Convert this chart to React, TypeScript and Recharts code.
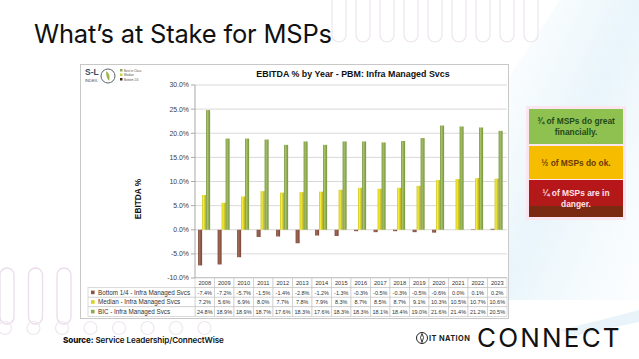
import React from 'react';
import { BarChart, Bar, XAxis, YAxis, CartesianGrid } from 'recharts';

const years = ['2008', '2009', '2010', '2011', '2012', '2013', '2014', '2015', '2016', '2017', '2018', '2019', '2020', '2021', '2022', '2023'];
const bottomQuartile = [-7.4, -7.2, -5.7, -1.5, -1.4, -2.8, -1.2, -1.3, -0.3, -0.5, -0.3, -0.5, -0.6, 0.0, 0.1, 0.2];
const medianValues = [7.2, 5.6, 6.9, 8.0, 7.7, 7.8, 7.9, 8.3, 8.7, 8.5, 8.7, 9.1, 10.3, 10.5, 10.7, 10.6];
const bicValues = [24.8, 18.9, 18.9, 18.7, 17.6, 18.3, 17.6, 18.3, 18.3, 18.1, 18.4, 19.0, 21.6, 21.4, 21.2, 20.5];
const yTicks = [-10, -5, 0, 5, 10, 15, 20, 25, 30];
const seriesNames = ['Bottom 1/4 - Infra Managed Svcs', 'Median - Infra Managed Svcs', 'BIC - Infra Managed Svcs'];
const seriesColors = ['#8B5444', '#D9D41A', '#8DAA4E'];

const data = years.map((y, i) => ({ year: y, bottom: bottomQuartile[i], median: medianValues[i], bic: bicValues[i] }));
const seriesArrays = [bottomQuartile, medianValues, bicValues];

const PLOT_W = 312;
const CELL_W = PLOT_W / years.length;
const ROW_H = 9.6;
const LABEL_W = 107;
const TABLE_FONT = "'Liberation Sans', Arial, sans-serif";

const fmt = (v: number) => v.toFixed(1) + '%';

const TableTick = (props: any) => {
  const { x, y, payload, index } = props;
  const left = x - CELL_W / 2;
  return (
    <g>
      <rect x={left} y={y} width={CELL_W} height={ROW_H} fill="#fff" stroke="#C4C4C4" strokeWidth={0.6} />
      <text x={x} y={y + 6.9} fontSize={5.7} textAnchor="middle" fill="#333" fontFamily={TABLE_FONT}>{payload.value}</text>
      {seriesArrays.map((arr, r) => (
        <g key={r}>
          <rect x={left} y={y + ROW_H * (r + 1)} width={CELL_W} height={ROW_H} fill="#fff" stroke="#C4C4C4" strokeWidth={0.6} />
          <text x={x} y={y + ROW_H * (r + 1) + 6.9} fontSize={5.5} textAnchor="middle" fill="#333" fontFamily={TABLE_FONT}>{fmt(arr[index])}</text>
        </g>
      ))}
      {index === 0 && seriesNames.map((name, r) => (
        <g key={'l' + r}>
          <rect x={left - LABEL_W} y={y + ROW_H * (r + 1)} width={LABEL_W} height={ROW_H} fill="#fff" stroke="#C4C4C4" strokeWidth={0.6} />
          <rect x={left - LABEL_W + 3} y={y + ROW_H * (r + 1) + 3} width={3.6} height={3.6} fill={seriesColors[r]} />
          <text x={left - LABEL_W + 10} y={y + ROW_H * (r + 1) + 6.9} fontSize={6.3} fill="#333" fontFamily={TABLE_FONT}>{name}</text>
        </g>
      ))}
    </g>
  );
};

const Decorations = () => (
  <svg width={639} height={359} style={{ position: 'absolute', left: 0, top: 0 }}>
    <defs>
      <linearGradient id="skyA" x1="0" y1="0" x2="1" y2="1">
        <stop offset="0" stopColor="#EEF8FC" stopOpacity="0" />
        <stop offset="0.5" stopColor="#E6F4FA" stopOpacity="0.9" />
        <stop offset="1" stopColor="#F4FAFD" stopOpacity="0.3" />
      </linearGradient>
    </defs>
    <polygon points="560,0 639,0 639,300 500,300 500,90" fill="url(#skyA)" />
    <path d="M560,330 Q610,318 639,310 L639,322 Q610,328 575,336 Z" fill="#E8F3FA" />
    {Array.from({ length: 9 }).map((_, i) => (
      <rect key={'t' + i} x={332 + i * 24} y={-12} width={14} height={54} rx={7} fill="none" stroke="#EDE4EE" strokeWidth={1.2} />
    ))}
    {Array.from({ length: 3 }).map((_, i) => (
      <rect key={'b' + i} x={0 + i * 28.5} y={268} width={14} height={56} rx={7} fill="none" stroke="#EADCEB" strokeWidth={1.3} />
    ))}
    {Array.from({ length: 8 }).map((_, i) => (
      <circle key={'c' + i} cx={5 + i * 28.5} cy={328} r={6.5} fill="none" stroke="#EEE6EF" strokeWidth={1.2} />
    ))}
  </svg>
);

const boxFont = "'Liberation Sans', Arial, sans-serif";

export default function App() {
  return (
    <div style={{ position: 'absolute', left: 0, top: 0, width: 639, height: 359, background: '#fff', overflow: 'hidden', fontFamily: 'Inter, Roboto, sans-serif' }}>
      <Decorations />
      <div style={{ position: 'absolute', left: 34, top: 18, fontSize: 25.5, color: '#111', fontFamily: 'Inter, sans-serif', letterSpacing: -0.2, whiteSpace: 'nowrap' }}>
        What’s at Stake for MSPs
      </div>

      {/* chart frame */}
      <div style={{ position: 'absolute', left: 80, top: 64, width: 427, height: 253, background: '#fff', border: '1px solid #C8C8C8' }} />

      {/* S-L index logo */}
      <svg width={80} height={24} style={{ position: 'absolute', left: 83, top: 66 }}>
        <text x={2} y={9} fontSize={8.5} fontWeight={700} fill="#3D4A5C" fontFamily="Arial, sans-serif">S-L</text>
        <text x={2} y={16} fontSize={4} fill="#3D4A5C" fontFamily="Arial, sans-serif">INDEX.</text>
        <circle cx={25} cy={10} r={7} fill="#fff" stroke="#5A6470" strokeWidth={1} />
        <path d="M23,5 Q28,8 26,15 Q23,12 23,5 Z" fill="#9CB84A" />
        <rect x={37} y={3} width={2.5} height={2.5} fill="#8DAA4E" />
        <rect x={37} y={7.5} width={2.5} height={2.5} fill="#C5D640" />
        <rect x={37} y={12} width={2.5} height={2.5} fill="#3A2A20" />
        <text x={41} y={5.5} fontSize={3} fill="#555" fontFamily="Arial">Best in Class</text>
        <text x={41} y={10} fontSize={3} fill="#555" fontFamily="Arial">Median</text>
        <text x={41} y={14.5} fontSize={3} fill="#555" fontFamily="Arial">Bottom 1/4</text>
      </svg>

      {/* chart title */}
      <div style={{ position: 'absolute', left: 197, width: 312, top: 69, textAlign: 'center', fontSize: 8.9, fontWeight: 700, color: '#111', fontFamily: "'Liberation Sans', Arial, sans-serif", whiteSpace: 'nowrap' }}>
        EBITDA % by Year - PBM: Infra Managed Svcs
      </div>

      {/* y axis title */}
      <div style={{ position: 'absolute', left: 138, top: 199, transform: 'translate(-50%, -50%) rotate(-90deg)', fontSize: 8.3, fontWeight: 700, color: '#111', fontFamily: "'Liberation Sans', Arial, sans-serif", whiteSpace: 'nowrap' }}>
        EBITDA %
      </div>

      <div style={{ position: 'absolute', left: 80, top: 64 }}>
        <BarChart width={428} height={254} data={data} margin={{ top: 21, right: 1, left: 0, bottom: 0 }} barCategoryGap="16%" barGap={0}>
          <defs>
            <linearGradient id="gBottom" x1="0" y1="0" x2="1" y2="0">
              <stop offset="0" stopColor="#6E3E30" />
              <stop offset="0.35" stopColor="#A06A58" />
              <stop offset="1" stopColor="#7A4536" />
            </linearGradient>
            <linearGradient id="gMedian" x1="0" y1="0" x2="1" y2="0">
              <stop offset="0" stopColor="#C9C210" />
              <stop offset="0.35" stopColor="#F2EE3A" />
              <stop offset="1" stopColor="#B8A820" />
            </linearGradient>
            <linearGradient id="gBic" x1="0" y1="0" x2="1" y2="0">
              <stop offset="0" stopColor="#6F8C38" />
              <stop offset="0.35" stopColor="#A5C264" />
              <stop offset="1" stopColor="#76933E" />
            </linearGradient>
          </defs>
          <CartesianGrid vertical={false} stroke="#CFCFCF" strokeWidth={0.8} />
          <XAxis dataKey="year" height={40} interval={0} tickLine={false} tickSize={0} tickMargin={0} axisLine={{ stroke: '#A8A8A8' }} tick={<TableTick />} />
          <YAxis width={115} domain={[-10, 30]} ticks={yTicks} allowDataOverflow tickFormatter={fmt} tickSize={4} tickMargin={2}
            tick={{ fontSize: 6.9, fill: '#404040', fontFamily: "'Liberation Sans', Arial, sans-serif" }}
            axisLine={{ stroke: '#A8A8A8' }} tickLine={{ stroke: '#A8A8A8' }} />
          <Bar dataKey="bottom" fill="url(#gBottom)" isAnimationActive={false} />
          <Bar dataKey="median" fill="url(#gMedian)" isAnimationActive={false} />
          <Bar dataKey="bic" fill="url(#gBic)" isAnimationActive={false} />
        </BarChart>
      </div>

      {/* right summary boxes */}
      <div style={{ position: 'absolute', left: 526, top: 106, width: 100, height: 114, background: '#FBE6F0' }} />
      <div style={{ position: 'absolute', left: 529, top: 109, width: 94, height: 35, background: '#8FC150', color: '#1F4A1A', fontSize: 8.4, fontWeight: 700, fontFamily: boxFont, display: 'flex', alignItems: 'center', justifyContent: 'center', textAlign: 'center', lineHeight: '11px' }}>
        ¾ of MSPs do great<br />financially.
      </div>
      <div style={{ position: 'absolute', left: 529, top: 146, width: 94, height: 33, background: '#F5BC00', color: '#6A3A06', fontSize: 8.4, fontWeight: 700, fontFamily: boxFont, display: 'flex', alignItems: 'center', justifyContent: 'center', textAlign: 'center' }}>
        ½ of MSPs do ok.
      </div>
      <div style={{ position: 'absolute', left: 529, top: 180, width: 94, height: 37, background: 'linear-gradient(#B8161A 0%, #B01A18 70%, #7A2A10 71%, #7A2A10 100%)', color: '#FFE2EA', fontSize: 8.4, fontWeight: 700, fontFamily: boxFont, display: 'flex', alignItems: 'center', justifyContent: 'center', textAlign: 'center', lineHeight: '11px' }}>
        ¼ of MSPs are in<br />danger.
      </div>

      {/* footer */}
      <div style={{ position: 'absolute', left: 63, top: 335, fontSize: 8.1, color: '#111', fontFamily: 'Inter, sans-serif', fontWeight: 600, whiteSpace: 'nowrap', letterSpacing: -0.1 }}>
        <span style={{ fontWeight: 800 }}>Source:</span> Service Leadership/ConnectWise
      </div>
      <svg width={14} height={14} style={{ position: 'absolute', left: 415, top: 331 }}>
        <circle cx={7} cy={7} r={5.5} fill="none" stroke="#222" strokeWidth={1} />
        <path d="M7,2.5 Q10,6 7,11.5 Q4,6 7,2.5 Z" fill="none" stroke="#222" strokeWidth={0.9} />
      </svg>
      <div style={{ position: 'absolute', left: 429, top: 334, fontSize: 7.4, fontWeight: 700, color: '#222', fontFamily: 'Inter, sans-serif', whiteSpace: 'nowrap', letterSpacing: 0.4 }}>
        IT NATION
      </div>
      <div style={{ position: 'absolute', left: 477, top: 322, fontSize: 26, color: '#111', fontFamily: 'Inter, sans-serif', fontWeight: 400, whiteSpace: 'nowrap', letterSpacing: 2.2 }}>
        CONNECT
      </div>
    </div>
  );
}
